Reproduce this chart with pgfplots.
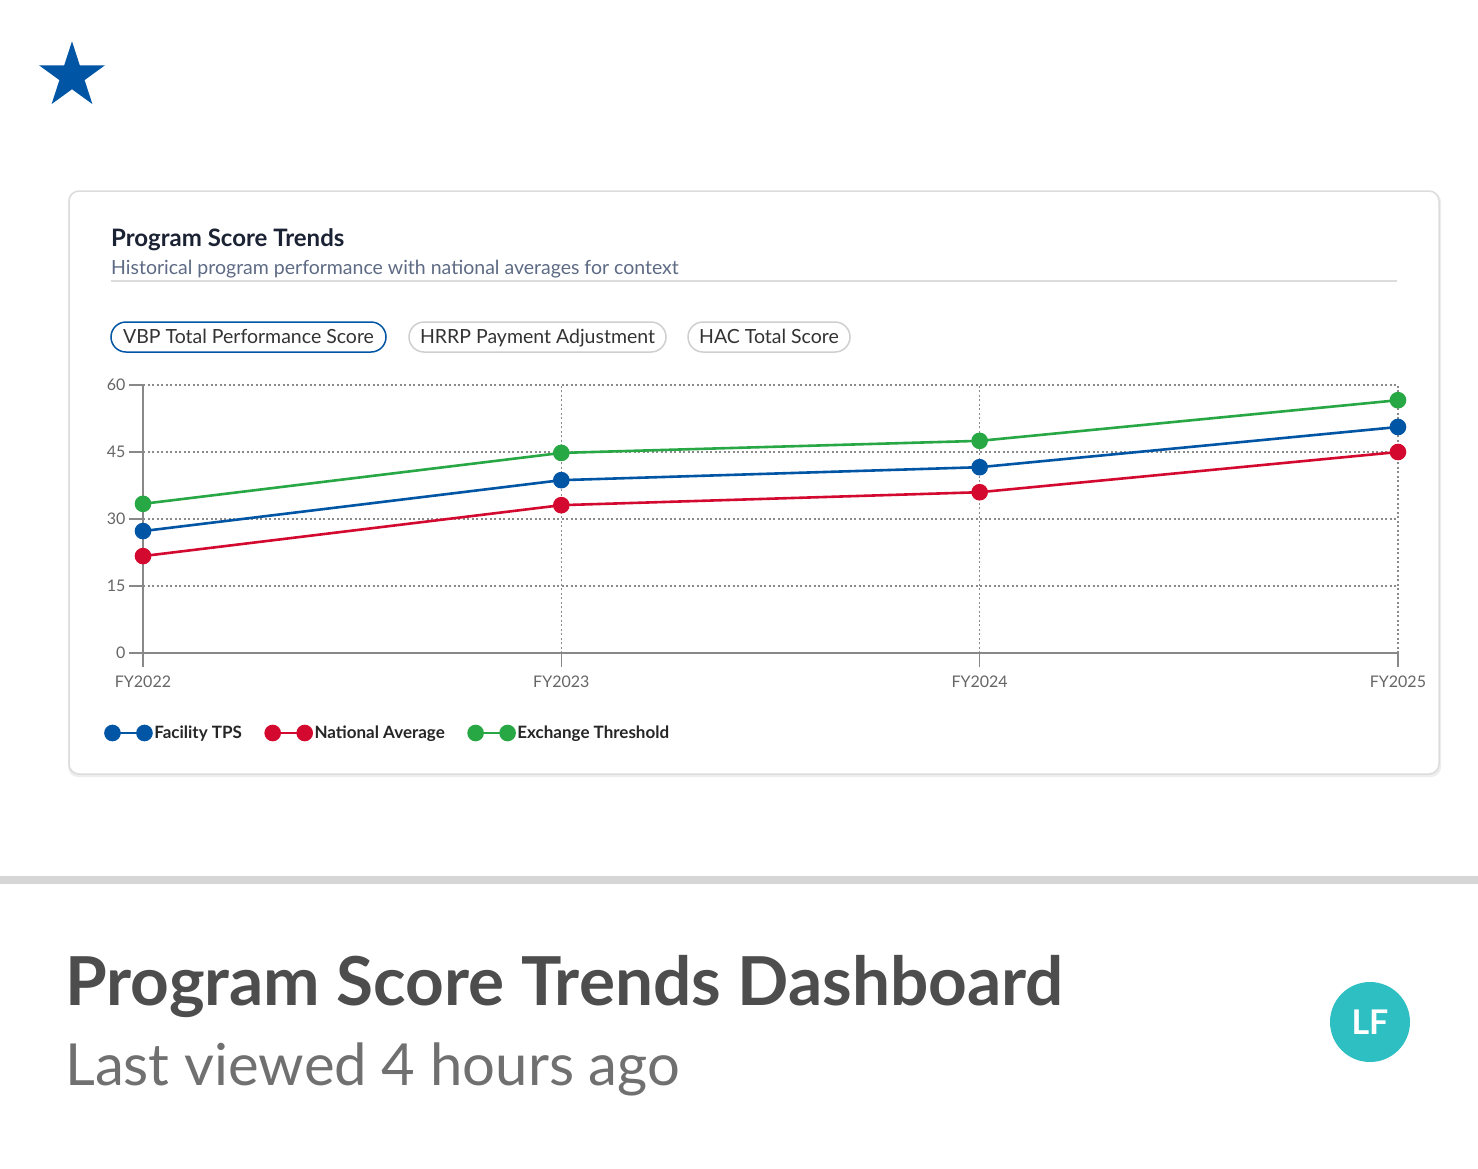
\documentclass[border=0pt]{standalone}
\usepackage{fontspec}
\setmainfont{Lato}
\usepackage{pgfplots}
\pgfplotsset{compat=1.18}
\usetikzlibrary{shapes.geometric}

\definecolor{tpsblue}{HTML}{0055A4}
\definecolor{natred}{HTML}{D4092F}
\definecolor{exgreen}{HTML}{28A745}
\definecolor{titleink}{HTML}{1B2233}
\definecolor{subink}{HTML}{5E6B85}
\definecolor{tickgray}{HTML}{666666}
\definecolor{axisgray}{HTML}{888888}
\definecolor{gridgray}{HTML}{8A8A8A}
\definecolor{cardline}{HTML}{DCDCDC}
\definecolor{pillline}{HTML}{CFCFCF}
\definecolor{pillink}{HTML}{333333}
\definecolor{bandgray}{HTML}{D6D6D6}
\definecolor{headink}{HTML}{4D4D4D}
\definecolor{metaink}{HTML}{707070}
\definecolor{avatar}{HTML}{2EBFC2}

% Program scores by fiscal year
\pgfplotstableread{
x tps nat exch
0 27.3 21.7 33.4
1 38.7 33.1 44.8
2 41.6 36.0 47.5
3 50.6 45.0 56.6
}\scores

\begin{document}
\begin{tikzpicture}[x=1pt,y=1pt]
\useasboundingbox (0,0) rectangle (1478,-1168);
\fill[white] (0,0) rectangle (1478,-1168);

% logo star
\node[star, star points=5, star point ratio=2.618, minimum size=69.4pt,
      inner sep=0pt, fill=tpsblue, draw=none] at (72,-76) {};

% card with soft shadow
\fill[black!7, rounded corners=10pt] (68,-192) rectangle (1441,-777);
\filldraw[fill=white, draw=cardline, line width=1.5pt, rounded corners=10pt]
  (69,-191) rectangle (1439,-774);

\node[anchor=base west, inner sep=0pt, font=\fontsize{24}{28}\selectfont\bfseries,
      text=titleink] at (111,-246) {Program Score Trends};
\node[anchor=base west, inner sep=0pt, font=\fontsize{19.5}{23}\selectfont,
      text=subink] at (111,-274) {Historical program performance with national averages for context};
\draw[cardline, line width=1.2pt] (111,-281) -- (1397,-281);

% selector pills
\tikzset{pilltext/.style={anchor=base, inner sep=0pt, font=\fontsize{19.5}{23}\selectfont, text=pillink}}
\draw[tpsblue, line width=1.5pt, rounded corners=15pt] (111,-322) rectangle (386,-352);
\node[pilltext] at (248.5,-343.5) {VBP Total Performance Score};
\draw[pillline, line width=1.5pt, rounded corners=15pt] (409,-322) rectangle (666,-352);
\node[pilltext] at (537.5,-343.5) {HRRP Payment Adjustment};
\draw[pillline, line width=1.5pt, rounded corners=15pt] (688,-322) rectangle (850,-352);
\node[pilltext] at (769,-343.5) {HAC Total Score};

\begin{axis}[
  at={(143pt,-653pt)}, anchor=south west,
  scale only axis, width=1255pt, height=268pt,
  xmin=0, xmax=3, ymin=0, ymax=60,
  axis x line=bottom, axis y line=left,
  axis line style={axisgray, line width=1.5pt, -},
  xtick={0,1,2,3}, xticklabels={FY2022,FY2023,FY2024,FY2025},
  ytick={0,15,30,45,60},
  tick align=outside, major tick length=14pt,
  tick style={axisgray, line width=1.5pt},
  grid=major,
  major grid style={gridgray, line width=1.2pt, dash pattern=on 2pt off 2.5pt},
  /pgf/number format/assume math mode=true,
  tick label style={font=\fontsize{16}{19}\selectfont, text=tickgray},
  xticklabel style={yshift=-5pt},
  clip=false,
  legend columns=3,
  legend style={at={(-0.0311,-0.2985)}, anchor=west, draw=none, fill=none,
    inner sep=0pt, font=\fontsize{17}{20}\selectfont\bfseries, text=black!85,
    nodes={inner sep=1.5pt},
    /tikz/every even column/.append style={column sep=21pt}},
  legend image code/.code={
    \draw[#1, line width=2.5pt] (0pt,0pt) -- (32pt,0pt);
    \fill[#1] (0pt,0pt) circle (7pt);
    \fill[#1] (32pt,0pt) circle (7pt);},
  every axis plot/.append style={line width=2.6pt, mark=*, mark size=7pt},
]
\addplot[tpsblue, mark options={fill=tpsblue, draw=tpsblue}] table[x=x, y=tps] {\scores};
\addlegendentry{Facility TPS}
\addplot[natred, mark options={fill=natred, draw=natred}] table[x=x, y=nat] {\scores};
\addlegendentry{National Average}
\addplot[exgreen, mark options={fill=exgreen, draw=exgreen}] table[x=x, y=exch] {\scores};
\addlegendentry{Exchange Threshold}
\end{axis}

% footer
\fill[bandgray] (0,-876) rectangle (1478,-884);
\node[anchor=base west, inner sep=0pt, font=\fontsize{67.5}{78}\selectfont\bfseries,
      text=headink] at (65,-1005) {Program Score Trends Dashboard};
\node[anchor=base west, inner sep=0pt, font=\fontsize{58}{66}\selectfont,
      text=metaink] at (65,-1085) {Last viewed 4 hours ago};
\fill[avatar] (1370,-1022) circle (40);
\node[font=\fontsize{34}{40}\selectfont\bfseries, text=white] at (1370,-1022) {LF};
\end{tikzpicture}
\end{document}
